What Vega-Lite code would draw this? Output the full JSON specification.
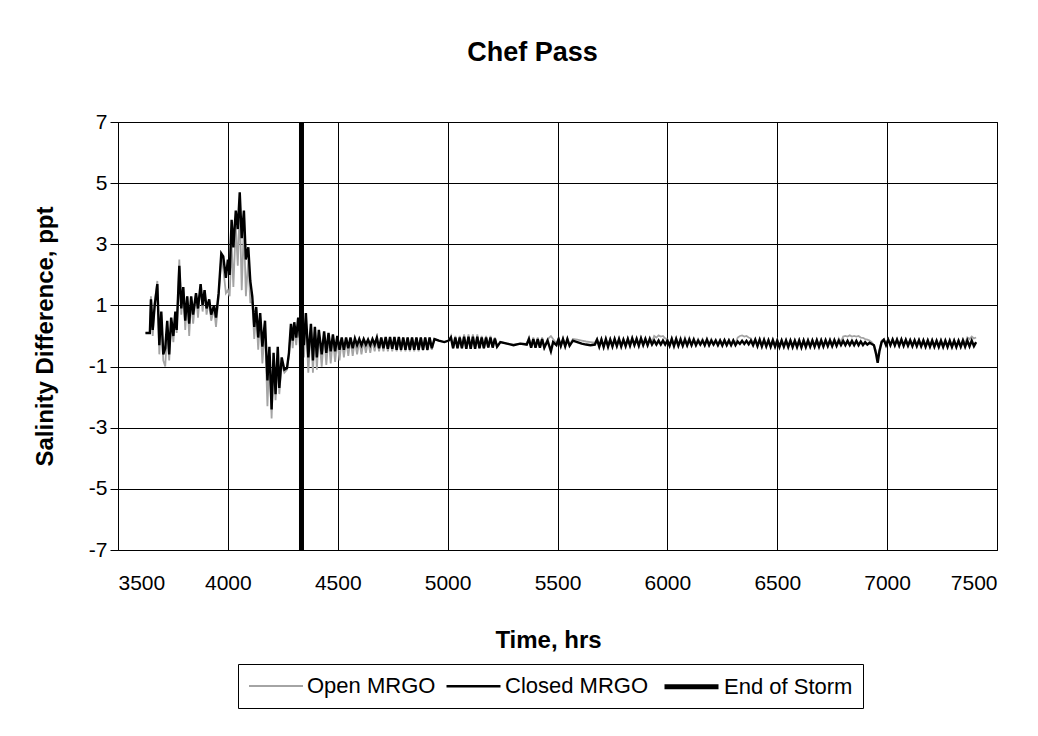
{
  "$schema": "https://vega.github.io/schema/vega-lite/v6.json",
  "autosize": {"type": "none"},
  "padding": {"left": 118, "top": 122, "right": 41, "bottom": 186},
  "width": 879,
  "height": 428,
  "background": "white",
  "title": {"text": "Chef Pass", "font": "Liberation Sans", "fontSize": 27, "fontWeight": "bold", "color": "black", "anchor": "middle", "frame": "group", "dx": -25, "offset": 44},
  "datasets": {
    "d": [
      {"t":3625,"c":0.1,"o":0.1},{"t":3645,"c":0.1,"o":0.1},{"t":3650,"c":1.2,"o":1.3},{"t":3658,"c":0.2,"o":0.0},
      {"t":3667,"c":1.0,"o":1.1},{"t":3679,"c":1.7,"o":1.8},{"t":3688,"c":-0.3,"o":-0.6},{"t":3697,"c":0.8,"o":0.7},
      {"t":3706,"c":-0.6,"o":-0.8},{"t":3715,"c":-0.4,"o":-1.0},{"t":3724,"c":0.5,"o":0.3},{"t":3733,"c":-0.6,"o":-0.8},
      {"t":3742,"c":0.6,"o":0.5},{"t":3752,"c":0.0,"o":-0.2},{"t":3761,"c":0.8,"o":0.7},{"t":3767,"c":0.2,"o":0.1},
      {"t":3779,"c":2.3,"o":2.5},{"t":3788,"c":0.9,"o":0.7},{"t":3797,"c":1.6,"o":1.6},{"t":3806,"c":0.5,"o":0.2},
      {"t":3815,"c":1.3,"o":1.3},{"t":3824,"c":0.4,"o":0.0},{"t":3833,"c":1.3,"o":1.2},{"t":3842,"c":0.7,"o":0.4},
      {"t":3855,"c":1.4,"o":1.4},{"t":3864,"c":0.9,"o":0.6},{"t":3876,"c":1.7,"o":1.7},{"t":3885,"c":1.0,"o":0.8},
      {"t":3894,"c":1.5,"o":1.5},{"t":3903,"c":0.9,"o":0.7},{"t":3915,"c":1.2,"o":1.2},{"t":3924,"c":0.7,"o":0.5},
      {"t":3937,"c":1.0,"o":0.9},{"t":3946,"c":0.6,"o":0.3},{"t":3958,"c":1.4,"o":1.3},{"t":3970,"c":2.7,"o":2.6},
      {"t":3979,"c":2.6,"o":2.2},{"t":3991,"c":1.9,"o":1.4},{"t":4000,"c":2.5,"o":1.5},{"t":4008,"c":2.0,"o":1.3},
      {"t":4017,"c":3.8,"o":3.0},{"t":4025,"c":2.9,"o":1.6},{"t":4036,"c":4.1,"o":3.6},{"t":4045,"c":3.5,"o":2.3},
      {"t":4054,"c":4.7,"o":4.2},{"t":4063,"c":3.2,"o":1.5},{"t":4073,"c":4.1,"o":3.6},{"t":4082,"c":2.5,"o":1.3},
      {"t":4093,"c":2.9,"o":2.5},{"t":4102,"c":1.8,"o":1.1},{"t":4111,"c":1.3,"o":1.1},{"t":4120,"c":0.3,"o":-0.1},
      {"t":4129,"c":0.95,"o":0.8},{"t":4138,"c":-0.05,"o":-0.45},{"t":4147,"c":0.75,"o":0.6},{"t":4157,"c":-0.35,"o":-0.9},
      {"t":4169,"c":0.5,"o":0.3},{"t":4180,"c":-1.45,"o":-2.3},{"t":4189,"c":-0.35,"o":-0.6},{"t":4199,"c":-2.4,"o":-2.7},
      {"t":4208,"c":-0.55,"o":-0.8},{"t":4217,"c":-1.9,"o":-2.1},{"t":4227,"c":-0.35,"o":-0.6},{"t":4234,"c":-1.7,"o":-1.9},
      {"t":4245,"c":-0.7,"o":-0.9},{"t":4257,"c":-1.1,"o":-1.2},{"t":4269,"c":-1.05,"o":-1.1},{"t":4278,"c":-0.55,"o":-0.6},
      {"t":4287,"c":0.4,"o":0.3},{"t":4295,"c":-0.15,"o":-0.4},{"t":4302,"c":0.45,"o":0.3},{"t":4311,"c":-0.05,"o":-0.3},
      {"t":4320,"c":0.6,"o":0.4},{"t":4328,"c":-0.05,"o":-0.4},{"t":4337,"c":0.5,"o":0.3},{"t":4346,"c":-0.3,"o":-0.7},
      {"t":4355,"c":0.75,"o":0.6},{"t":4366,"c":-0.7,"o":-1.2},{"t":4378,"c":0.4,"o":0.3},{"t":4387,"c":-0.8,"o":-1.2},
      {"t":4396,"c":0.3,"o":0.2},{"t":4405,"c":-0.7,"o":-1.1},{"t":4414,"c":0.2,"o":0.1},{"t":4427,"c":-0.6,"o":-1.0},
      {"t":4438,"c":0.15,"o":0.05},{"t":4448,"c":-0.55,"o":-0.95},{"t":4458,"c":0.1,"o":0.0},{"t":4468,"c":-0.5,"o":-0.9},
      {"t":4478,"c":0.05,"o":-0.05},{"t":4488,"c":-0.5,"o":-0.85},{"t":4498,"c":0.0,"o":-0.1},{"t":4508,"c":-0.45,"o":-0.8},
      {"t":4518,"c":-0.05,"o":-0.1},{"t":4528,"c":-0.45,"o":-0.7},{"t":4538,"c":-0.05,"o":-0.1},{"t":4548,"c":-0.4,"o":-0.65},
      {"t":4558,"c":-0.05,"o":-0.1},{"t":4568,"c":-0.4,"o":-0.65},{"t":4578,"c":-0.08,"o":-0.15},{"t":4588,"c":-0.3,"o":-0.6},
      {"t":4598,"c":-0.1,"o":-0.15},{"t":4608,"c":-0.3,"o":-0.6},{"t":4618,"c":-0.1,"o":-0.15},{"t":4628,"c":-0.28,"o":-0.55},
      {"t":4638,"c":-0.12,"o":-0.15},{"t":4648,"c":-0.3,"o":-0.55},{"t":4658,"c":-0.1,"o":-0.15},{"t":4668,"c":-0.28,"o":-0.5},
      {"t":4678,"c":-0.05,"o":-0.1},{"t":4688,"c":-0.4,"o":-0.5},{"t":4698,"c":-0.05,"o":-0.1},{"t":4708,"c":-0.4,"o":-0.5},
      {"t":4718,"c":-0.03,"o":-0.08},{"t":4728,"c":-0.42,"o":-0.5},{"t":4738,"c":-0.03,"o":-0.08},{"t":4748,"c":-0.42,"o":-0.5},
      {"t":4758,"c":-0.03,"o":-0.05},{"t":4768,"c":-0.45,"o":-0.5},{"t":4778,"c":-0.03,"o":-0.05},{"t":4788,"c":-0.45,"o":-0.5},
      {"t":4798,"c":-0.05,"o":-0.05},{"t":4808,"c":-0.45,"o":-0.5},{"t":4818,"c":-0.05,"o":-0.05},{"t":4828,"c":-0.45,"o":-0.5},
      {"t":4838,"c":-0.05,"o":-0.05},{"t":4848,"c":-0.45,"o":-0.5},{"t":4858,"c":-0.05,"o":-0.05},{"t":4868,"c":-0.45,"o":-0.5},
      {"t":4878,"c":-0.05,"o":-0.05},{"t":4888,"c":-0.45,"o":-0.48},{"t":4898,"c":-0.05,"o":-0.05},{"t":4908,"c":-0.45,"o":-0.48},
      {"t":4918,"c":-0.05,"o":-0.05},{"t":4928,"c":-0.4,"o":-0.45},{"t":4940,"c":-0.1,"o":-0.1},{"t":4960,"c":-0.15,"o":-0.15},
      {"t":4985,"c":-0.2,"o":-0.2},{"t":5005,"c":-0.15,"o":-0.15},
      {"t":5015,"c":-0.05,"o":0.0},{"t":5025,"c":-0.4,"o":-0.4},{"t":5035,"c":-0.05,"o":0.0},{"t":5045,"c":-0.4,"o":-0.4},
      {"t":5055,"c":-0.05,"o":0.0},{"t":5065,"c":-0.4,"o":-0.4},{"t":5075,"c":-0.02,"o":0.05},{"t":5085,"c":-0.42,"o":-0.42},
      {"t":5095,"c":-0.02,"o":0.05},{"t":5105,"c":-0.42,"o":-0.42},{"t":5115,"c":-0.02,"o":0.05},{"t":5125,"c":-0.42,"o":-0.42},
      {"t":5135,"c":-0.02,"o":0.05},{"t":5145,"c":-0.4,"o":-0.4},{"t":5155,"c":-0.05,"o":0.0},{"t":5165,"c":-0.4,"o":-0.4},
      {"t":5175,"c":-0.05,"o":0.0},{"t":5185,"c":-0.38,"o":-0.38},{"t":5195,"c":-0.05,"o":0.0},{"t":5205,"c":-0.38,"o":-0.38},
      {"t":5215,"c":-0.08,"o":-0.05},{"t":5225,"c":-0.35,"o":-0.35},{"t":5240,"c":-0.2,"o":-0.2},{"t":5270,"c":-0.25,"o":-0.25},
      {"t":5300,"c":-0.3,"o":-0.28},{"t":5330,"c":-0.25,"o":-0.25},{"t":5360,"c":-0.28,"o":-0.25},{"t":5370,"c":-0.1,"o":-0.05},
      {"t":5380,"c":-0.38,"o":-0.38},{"t":5390,"c":-0.1,"o":-0.05},{"t":5400,"c":-0.38,"o":-0.38},{"t":5410,"c":-0.1,"o":-0.05},
      {"t":5420,"c":-0.38,"o":-0.38},{"t":5430,"c":-0.1,"o":-0.05},{"t":5440,"c":-0.38,"o":-0.38},{"t":5455,"c":-0.15,"o":-0.1},
      {"t":5470,"c":-0.5,"o":0.0},{"t":5480,"c":-0.2,"o":-0.1},{"t":5495,"c":-0.3,"o":-0.25},
      {"t":5505,"c":-0.1,"o":-0.08},{"t":5515,"c":-0.33,"o":-0.3},{"t":5525,"c":-0.1,"o":-0.08},{"t":5535,"c":-0.34,"o":-0.3},
      {"t":5545,"c":-0.1,"o":-0.08},{"t":5555,"c":-0.32,"o":-0.3},{"t":5570,"c":-0.15,"o":-0.1},{"t":5590,"c":-0.2,"o":-0.12},
      {"t":5610,"c":-0.25,"o":-0.15},{"t":5630,"c":-0.28,"o":-0.18},{"t":5650,"c":-0.3,"o":-0.2},{"t":5670,"c":-0.28,"o":-0.22},
      {"t":5680,"c":-0.12,"o":-0.1},{"t":5690,"c":-0.35,"o":-0.33},{"t":5700,"c":-0.12,"o":-0.1},{"t":5710,"c":-0.36,"o":-0.34},
      {"t":5720,"c":-0.1,"o":-0.1},{"t":5730,"c":-0.35,"o":-0.33},{"t":5740,"c":-0.12,"o":-0.1},{"t":5750,"c":-0.34,"o":-0.32},
      {"t":5760,"c":-0.1,"o":-0.08},{"t":5770,"c":-0.33,"o":-0.3},{"t":5780,"c":-0.1,"o":-0.08},{"t":5790,"c":-0.34,"o":-0.32},
      {"t":5800,"c":-0.12,"o":-0.1},{"t":5810,"c":-0.33,"o":-0.3},{"t":5820,"c":-0.1,"o":-0.08},{"t":5830,"c":-0.32,"o":-0.3},
      {"t":5840,"c":-0.08,"o":-0.05},{"t":5850,"c":-0.3,"o":-0.28},{"t":5860,"c":-0.1,"o":-0.06},{"t":5870,"c":-0.32,"o":-0.3},
      {"t":5880,"c":-0.08,"o":-0.05},{"t":5890,"c":-0.3,"o":-0.28},{"t":5900,"c":-0.1,"o":-0.06},{"t":5910,"c":-0.3,"o":-0.28},
      {"t":5920,"c":-0.1,"o":-0.05},{"t":5930,"c":-0.28,"o":-0.2},{"t":5940,"c":-0.15,"o":0.0},{"t":5950,"c":-0.28,"o":-0.05},
      {"t":5960,"c":-0.15,"o":0.02},{"t":5970,"c":-0.28,"o":-0.02},{"t":5980,"c":-0.15,"o":0.0},{"t":5990,"c":-0.28,"o":-0.08},
      {"t":6000,"c":-0.15,"o":-0.1},{"t":6010,"c":-0.32,"o":-0.3},{"t":6020,"c":-0.1,"o":-0.08},{"t":6030,"c":-0.33,"o":-0.3},
      {"t":6040,"c":-0.1,"o":-0.08},{"t":6050,"c":-0.32,"o":-0.3},{"t":6060,"c":-0.12,"o":-0.06},{"t":6070,"c":-0.32,"o":-0.3},
      {"t":6080,"c":-0.12,"o":-0.06},{"t":6090,"c":-0.31,"o":-0.29},{"t":6100,"c":-0.12,"o":-0.06},{"t":6110,"c":-0.3,"o":-0.28},
      {"t":6120,"c":-0.12,"o":-0.08},{"t":6130,"c":-0.3,"o":-0.28},{"t":6140,"c":-0.15,"o":-0.1},{"t":6150,"c":-0.28,"o":-0.25},
      {"t":6160,"c":-0.15,"o":-0.1},{"t":6170,"c":-0.3,"o":-0.28},{"t":6180,"c":-0.12,"o":-0.08},{"t":6190,"c":-0.3,"o":-0.28},
      {"t":6200,"c":-0.15,"o":-0.1},{"t":6210,"c":-0.28,"o":-0.26},{"t":6220,"c":-0.15,"o":-0.12},{"t":6230,"c":-0.3,"o":-0.28},
      {"t":6240,"c":-0.15,"o":-0.12},{"t":6250,"c":-0.31,"o":-0.28},{"t":6260,"c":-0.14,"o":-0.12},{"t":6270,"c":-0.3,"o":-0.28},
      {"t":6280,"c":-0.15,"o":-0.12},{"t":6290,"c":-0.3,"o":-0.28},{"t":6300,"c":-0.15,"o":-0.12},{"t":6310,"c":-0.3,"o":-0.25},
      {"t":6320,"c":-0.18,"o":-0.05},{"t":6330,"c":-0.26,"o":0.0},{"t":6340,"c":-0.16,"o":0.02},{"t":6350,"c":-0.26,"o":-0.02},
      {"t":6360,"c":-0.16,"o":0.0},{"t":6370,"c":-0.27,"o":-0.05},{"t":6380,"c":-0.15,"o":-0.08},{"t":6390,"c":-0.3,"o":-0.25},
      {"t":6400,"c":-0.12,"o":-0.1},{"t":6410,"c":-0.33,"o":-0.3},{"t":6420,"c":-0.12,"o":-0.1},{"t":6430,"c":-0.34,"o":-0.3},
      {"t":6440,"c":-0.13,"o":-0.11},{"t":6450,"c":-0.34,"o":-0.31},{"t":6460,"c":-0.14,"o":-0.12},{"t":6470,"c":-0.35,"o":-0.32},
      {"t":6480,"c":-0.14,"o":-0.12},{"t":6490,"c":-0.35,"o":-0.32},{"t":6500,"c":-0.15,"o":-0.12},{"t":6510,"c":-0.36,"o":-0.33},
      {"t":6520,"c":-0.15,"o":-0.12},{"t":6530,"c":-0.35,"o":-0.33},{"t":6540,"c":-0.15,"o":-0.12},{"t":6550,"c":-0.36,"o":-0.33},
      {"t":6560,"c":-0.15,"o":-0.12},{"t":6570,"c":-0.36,"o":-0.33},{"t":6580,"c":-0.16,"o":-0.13},{"t":6590,"c":-0.36,"o":-0.33},
      {"t":6600,"c":-0.15,"o":-0.12},{"t":6610,"c":-0.37,"o":-0.34},{"t":6620,"c":-0.15,"o":-0.12},{"t":6630,"c":-0.36,"o":-0.33},
      {"t":6640,"c":-0.15,"o":-0.12},{"t":6650,"c":-0.35,"o":-0.33},{"t":6660,"c":-0.15,"o":-0.12},{"t":6670,"c":-0.35,"o":-0.32},
      {"t":6680,"c":-0.14,"o":-0.12},{"t":6690,"c":-0.35,"o":-0.32},{"t":6700,"c":-0.14,"o":-0.12},{"t":6710,"c":-0.34,"o":-0.32},
      {"t":6720,"c":-0.14,"o":-0.12},{"t":6730,"c":-0.33,"o":-0.3},{"t":6740,"c":-0.14,"o":-0.1},{"t":6750,"c":-0.33,"o":-0.3},
      {"t":6760,"c":-0.14,"o":-0.1},{"t":6770,"c":-0.32,"o":-0.3},{"t":6780,"c":-0.15,"o":-0.08},{"t":6790,"c":-0.3,"o":-0.2},
      {"t":6800,"c":-0.16,"o":-0.02},{"t":6810,"c":-0.3,"o":0.0},{"t":6820,"c":-0.16,"o":-0.02},{"t":6830,"c":-0.3,"o":0.02},
      {"t":6840,"c":-0.16,"o":-0.02},{"t":6850,"c":-0.3,"o":0.0},{"t":6860,"c":-0.16,"o":-0.02},{"t":6870,"c":-0.3,"o":0.0},
      {"t":6880,"c":-0.18,"o":-0.05},{"t":6890,"c":-0.3,"o":-0.06},{"t":6900,"c":-0.2,"o":-0.1},{"t":6910,"c":-0.28,"o":-0.12},
      {"t":6920,"c":-0.22,"o":-0.15},{"t":6930,"c":-0.26,"o":-0.2},{"t":6940,"c":-0.3,"o":-0.3},{"t":6950,"c":-0.6,"o":-0.5},
      {"t":6957,"c":-0.88,"o":-0.75},{"t":6965,"c":-0.5,"o":-0.45},{"t":6975,"c":-0.2,"o":-0.15},
      {"t":6985,"c":-0.12,"o":-0.1},{"t":6995,"c":-0.3,"o":-0.28},{"t":7005,"c":-0.12,"o":-0.1},{"t":7015,"c":-0.3,"o":-0.28},
      {"t":7025,"c":-0.12,"o":-0.1},{"t":7035,"c":-0.31,"o":-0.29},{"t":7045,"c":-0.12,"o":-0.1},{"t":7055,"c":-0.32,"o":-0.3},
      {"t":7065,"c":-0.12,"o":-0.1},{"t":7075,"c":-0.32,"o":-0.3},{"t":7085,"c":-0.13,"o":-0.11},{"t":7095,"c":-0.32,"o":-0.3},
      {"t":7105,"c":-0.14,"o":-0.12},{"t":7115,"c":-0.33,"o":-0.3},{"t":7125,"c":-0.14,"o":-0.12},{"t":7135,"c":-0.33,"o":-0.3},
      {"t":7145,"c":-0.14,"o":-0.12},{"t":7155,"c":-0.34,"o":-0.31},{"t":7165,"c":-0.15,"o":-0.12},{"t":7175,"c":-0.35,"o":-0.32},
      {"t":7185,"c":-0.15,"o":-0.12},{"t":7195,"c":-0.35,"o":-0.32},{"t":7205,"c":-0.15,"o":-0.12},{"t":7215,"c":-0.35,"o":-0.32},
      {"t":7225,"c":-0.16,"o":-0.12},{"t":7235,"c":-0.36,"o":-0.33},{"t":7245,"c":-0.16,"o":-0.12},{"t":7255,"c":-0.36,"o":-0.33},
      {"t":7265,"c":-0.16,"o":-0.12},{"t":7275,"c":-0.36,"o":-0.33},{"t":7285,"c":-0.16,"o":-0.12},{"t":7295,"c":-0.36,"o":-0.33},
      {"t":7305,"c":-0.16,"o":-0.12},{"t":7315,"c":-0.36,"o":-0.33},{"t":7325,"c":-0.16,"o":-0.12},{"t":7335,"c":-0.35,"o":-0.32},
      {"t":7345,"c":-0.15,"o":-0.1},{"t":7355,"c":-0.35,"o":-0.25},{"t":7365,"c":-0.15,"o":-0.05},{"t":7375,"c":-0.34,"o":-0.1},
      {"t":7385,"c":-0.15,"o":-0.02},{"t":7395,"c":-0.33,"o":-0.08},{"t":7405,"c":-0.2,"o":-0.05}
    ]
  },
  "layer": [
    {
      "data": {"values": [{"z": 0}]},
      "mark": {"type": "rule", "color": "black", "strokeWidth": 1},
      "encoding": {"y": {"field": "z", "type": "quantitative", "scale": {"domain": [-7, 7]}}}
    },
    {
      "data": {"name": "d"},
      "transform": [{"fold": ["o", "c"], "as": ["series", "v"]}, {"filter": "datum.series == 'o'"}],
      "mark": {"type": "line", "strokeJoin": "miter"},
      "encoding": {
        "x": {"field": "t", "type": "quantitative"},
        "y": {"field": "v", "type": "quantitative"},
        "color": {"field": "series", "type": "nominal"},
        "strokeWidth": {"field": "series", "type": "ordinal"}
      }
    },
    {
      "data": {"name": "d"},
      "transform": [{"fold": ["o", "c"], "as": ["series", "v"]}, {"filter": "datum.series == 'c'"}],
      "mark": {"type": "line", "strokeJoin": "miter"},
      "encoding": {
        "x": {"field": "t", "type": "quantitative"},
        "y": {"field": "v", "type": "quantitative"},
        "color": {"field": "series", "type": "nominal"},
        "strokeWidth": {"field": "series", "type": "ordinal"}
      }
    },
    {
      "data": {"values": [{"series": "s", "t": 4335, "lo": -7, "hi": 7}]},
      "mark": {"type": "rule"},
      "encoding": {
        "x": {"field": "t", "type": "quantitative"},
        "y": {"field": "lo", "type": "quantitative"},
        "y2": {"field": "hi"},
        "color": {"field": "series", "type": "nominal"},
        "strokeWidth": {"field": "series", "type": "ordinal"}
      }
    }
  ],
  "resolve": {"scale": {"color": "shared", "strokeWidth": "shared"}},
  "encoding": {
    "x": {
      "field": "t", "type": "quantitative",
      "title": "Time, hrs",
      "scale": {"domain": [3500, 7500], "nice": false, "zero": false},
      "axis": {"values": [3500, 4000, 4500, 5000, 5500, 6000, 6500, 7000, 7500], "labelExpr": "'' + datum.value", "ticks": false, "domain": false, "labelPadding": 22, "titlePadding": 35, "titleX": 430}
    },
    "y": {
      "type": "quantitative",
      "title": "Salinity Difference, ppt",
      "scale": {"domain": [-7, 7], "nice": false, "zero": false},
      "axis": {"values": [-7, -5, -3, -1, 1, 3, 5, 7], "labelExpr": "'' + datum.value", "tickSize": 8, "domain": false, "labelPadding": 3, "titleX": -61, "titleY": 214}
    },
    "color": {
      "scale": {"domain": ["o", "c", "s"], "range": ["#a4a4a4", "#000000", "#000000"]},
      "legend": {
        "title": null, "orient": "none", "direction": "horizontal", "legendX": 120, "legendY": 542,
        "symbolType": "M -1 0 H 4.4", "symbolSize": 400, "labelFontSize": 22, "labelFont": "Liberation Sans", "labelColor": "black",
        "strokeColor": "black", "padding": 10, "columnPadding": 5, "labelOffset": 37,
        "labelExpr": "datum.label == 'o' ? 'Open MRGO' : (datum.label == 'c' ? 'Closed MRGO' : 'End of Storm')"
      }
    },
    "strokeWidth": {
      "scale": {"type": "ordinal", "domain": ["o", "c", "s"], "range": [1.8, 2.4, 5]},
      "legend": {
        "title": null, "orient": "none", "direction": "horizontal", "legendX": 120, "legendY": 542,
        "symbolType": "M -1 0 H 4.4", "symbolSize": 400, "labelFontSize": 22, "labelFont": "Liberation Sans", "labelColor": "black",
        "strokeColor": "black", "padding": 10, "columnPadding": 5, "labelOffset": 37,
        "labelExpr": "datum.label == 'o' ? 'Open MRGO' : (datum.label == 'c' ? 'Closed MRGO' : 'End of Storm')"
      }
    }
  },
  "config": {
    "font": "Liberation Sans",
    "view": {"stroke": "black", "strokeWidth": 1},
    "axis": {
      "grid": true, "gridColor": "black", "gridOpacity": 1, "gridWidth": 1,
      "tickColor": "black", "labelColor": "black", "titleColor": "black",
      "labelFontSize": 21, "labelFont": "Liberation Sans",
      "titleFontSize": 24, "titleFont": "Liberation Sans", "titleFontWeight": "bold"
    }
  }
}
